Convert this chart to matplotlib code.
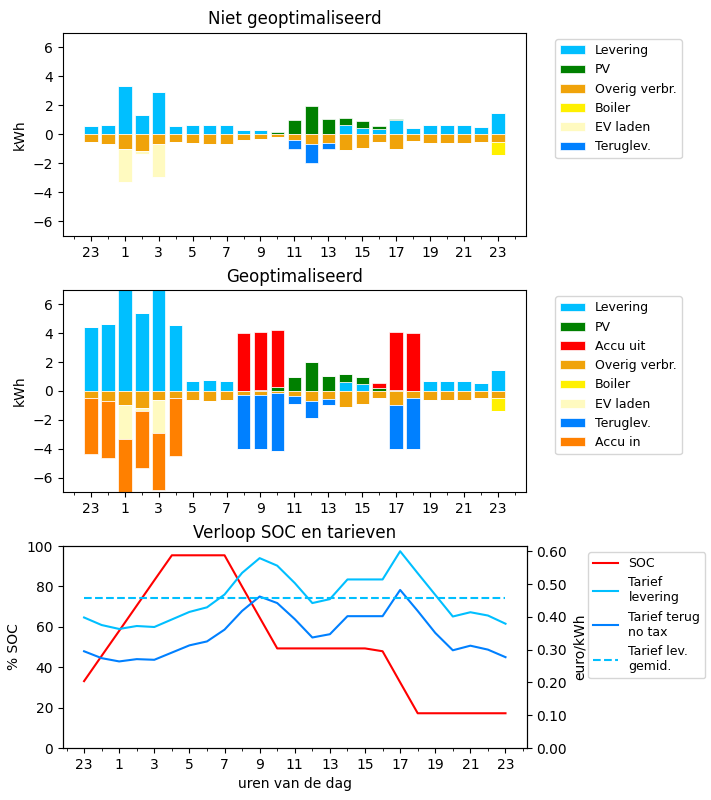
import numpy as np
import matplotlib
matplotlib.use("Agg")
import matplotlib.pyplot as plt

# uren (x-as loopt van 23 uur gisteren t/m 23 uur vandaag)
hours = [23] + list(range(24))

# niet geoptimaliseerd (kWh)
lev_n = [0.55, 0.67, 3.31, 1.33, 2.94, 0.55, 0.62, 0.67, 0.67, 0.30, 0.30, 0.0, 0.0,
         0.0, 0.0, 0.62, 0.41, 0.34, 0.99, 0.46, 0.62, 0.62, 0.62, 0.53, 1.45]
pv_n = [0, 0, 0, 0, 0, 0, 0, 0, 0, 0, 0, 0.18, 0.97,
        1.93, 1.03, 0.48, 0.51, 0.21, 0.04, 0, 0, 0, 0, 0, 0]
overig_n = [-0.53, -0.67, -1.03, -1.17, -0.67, -0.53, -0.62, -0.67, -0.67, -0.37, -0.32, -0.18, -0.37,
            -0.67, -0.62, -1.08, -0.92, -0.53, -1.03, -0.46, -0.62, -0.62, -0.62, -0.53, -0.53]
boiler_n = [0] * 24 + [-0.92]
ev_n = [0, 0, -2.26, -0.16, -2.27] + [0] * 20
terug_n = [0] * 12 + [-0.62, -1.31, -0.41] + [0] * 10

# geoptimaliseerd (kWh)
lev_o = [4.41, 4.66, 7.30, 5.40, 7.20, 4.55, 0.67, 0.74, 0.67, 0, 0, 0, 0,
         0, 0, 0.62, 0.48, 0, 0, 0, 0.67, 0.67, 0.67, 0.55, 1.45]
pv_o = [0, 0, 0, 0, 0, 0, 0, 0, 0, 0, 0.05, 0.28, 0.99,
        1.99, 1.06, 0.56, 0.51, 0.18, 0.05, 0, 0, 0, 0, 0, 0]
accu_uit = [0, 0, 0, 0, 0, 0, 0, 0, 0, 4.00, 4.01, 3.97, 0,
            0, 0, 0, 0, 0.37, 4.01, 4.00, 0, 0, 0, 0, 0]
overig_o = [-0.51, -0.69, -0.97, -1.20, -0.62, -0.51, -0.62, -0.69, -0.62, -0.28, -0.28, -0.12, -0.32,
            -0.69, -0.55, -1.11, -0.90, -0.48, -0.97, -0.48, -0.62, -0.62, -0.62, -0.48, -0.48]
boiler_o = [0] * 24 + [-0.93]
ev_o = [0, 0, -2.36, -0.16, -2.27] + [0] * 20
terug_o = [0, 0, 0, 0, 0, 0, 0, 0, 0, -3.72, -3.72, -4.04, -0.58,
           -1.20, -0.42, 0, 0, 0, -3.03, -3.52, 0, 0, 0, 0, 0]
accu_in = [-3.85, -3.97, -3.97, -3.97, -3.97, -3.97] + [0] * 19

# SOC en tarieven
soc = [33.1, 45.6, 58.0, 70.5, 83.0, 95.4, 95.4, 95.4, 95.4, 79.9, 64.6, 49.3, 49.3,
       49.3, 49.3, 49.3, 49.3, 47.9, 32.5, 17.2, 17.2, 17.2, 17.2, 17.2, 17.2]
tarief_lev = [0.398, 0.375, 0.363, 0.372, 0.369, 0.392, 0.415, 0.429, 0.468, 0.534, 0.579, 0.556, 0.503,
              0.442, 0.454, 0.514, 0.514, 0.514, 0.600, 0.533, 0.467, 0.401, 0.414, 0.404, 0.379]
tarief_terug = [0.295, 0.274, 0.264, 0.271, 0.269, 0.291, 0.313, 0.325, 0.361, 0.418, 0.462, 0.442, 0.393,
                0.337, 0.347, 0.402, 0.402, 0.402, 0.482, 0.418, 0.351, 0.298, 0.312, 0.300, 0.277]
tarief_gem = 0.456

c_lev = '#00bfff'
c_pv = '#008000'
c_uit = '#ff0000'
c_overig = '#f0a30a'
c_boiler = '#fff000'
c_ev = '#fffac0'
c_terug = '#0080ff'
c_in = '#ff8000'

x = np.arange(len(hours))
xticks = x[::2]
xlabels = [str(h) for h in hours[::2]]

fig = plt.figure(figsize=(7.11, 8), dpi=100)
ax1 = fig.add_axes([0.0886, 0.705, 0.651, 0.254])
ax2 = fig.add_axes([0.0886, 0.385, 0.651, 0.2525])
ax3 = fig.add_axes([0.0886, 0.065, 0.652, 0.2525])


def stack(ax, series):
    pos = np.zeros(len(x))
    neg = np.zeros(len(x))
    for vals, col, lab in series:
        v = np.array(vals, dtype=float)
        if v.min() < 0:
            ax.bar(x, v, bottom=neg, color=col, label=lab, edgecolor='white', linewidth=0.5)
            neg += v
        else:
            ax.bar(x, v, bottom=pos, color=col, label=lab, edgecolor='white', linewidth=0.5)
            pos += v


stack(ax1, [(lev_n, c_lev, 'Levering'), (pv_n, c_pv, 'PV'),
            (overig_n, c_overig, 'Overig verbr.'), (boiler_n, c_boiler, 'Boiler'),
            (ev_n, c_ev, 'EV laden'), (terug_n, c_terug, 'Teruglev.')])
stack(ax2, [(lev_o, c_lev, 'Levering'), (pv_o, c_pv, 'PV'), (accu_uit, c_uit, 'Accu uit'),
            (overig_o, c_overig, 'Overig verbr.'), (boiler_o, c_boiler, 'Boiler'),
            (ev_o, c_ev, 'EV laden'), (terug_o, c_terug, 'Teruglev.'), (accu_in, c_in, 'Accu in')])

for ax, title in [(ax1, 'Niet geoptimaliseerd'), (ax2, 'Geoptimaliseerd')]:
    ax.set_title(title)
    ax.set_ylabel('kWh')
    ax.set_ylim(-7, 7)
    ax.set_yticks([-6, -4, -2, 0, 2, 4, 6])
    ax.set_xticks(xticks)
    ax.set_xticklabels(xlabels)
    ax.set_xticks(np.arange(-1, 26), minor=True)
    ax.legend(loc='upper left', bbox_to_anchor=(1.05, 1), fontsize=9)

# SOC en tarieven
ax3.plot(x, soc, color='red', label='SOC')
ax3.set_ylim(0, 100)
ax3.set_ylabel('% SOC')
ax3.set_xlabel('uren van de dag')
ax3.set_title('Verloop SOC en tarieven')
ax3.set_xticks(xticks)
ax3.set_xticklabels(xlabels)
ax3.set_xticks(np.arange(-1, 26), minor=True)

ax4 = ax3.twinx()
ax4.plot(x, tarief_lev, color='#00bfff', label='Tarief\nlevering')
ax4.plot(x, tarief_terug, color='#0080ff', label='Tarief terug\nno tax')
ax4.plot(x, [tarief_gem] * len(x), color='#00bfff', linestyle='--', label='Tarief lev.\ngemid.')
ax4.set_ylim(0, 0.616)
ax4.set_yticks(np.arange(0, 0.61, 0.1))
ax4.set_yticklabels(['%.2f' % t for t in np.arange(0, 0.61, 0.1)])
ax4.set_ylabel('euro/kWh')

h1, l1 = ax3.get_legend_handles_labels()
h2, l2 = ax4.get_legend_handles_labels()
ax4.legend(h1 + h2, l1 + l2, loc='upper left', bbox_to_anchor=(1.12, 1), fontsize=9)

fig.savefig('out.png', dpi=100)
